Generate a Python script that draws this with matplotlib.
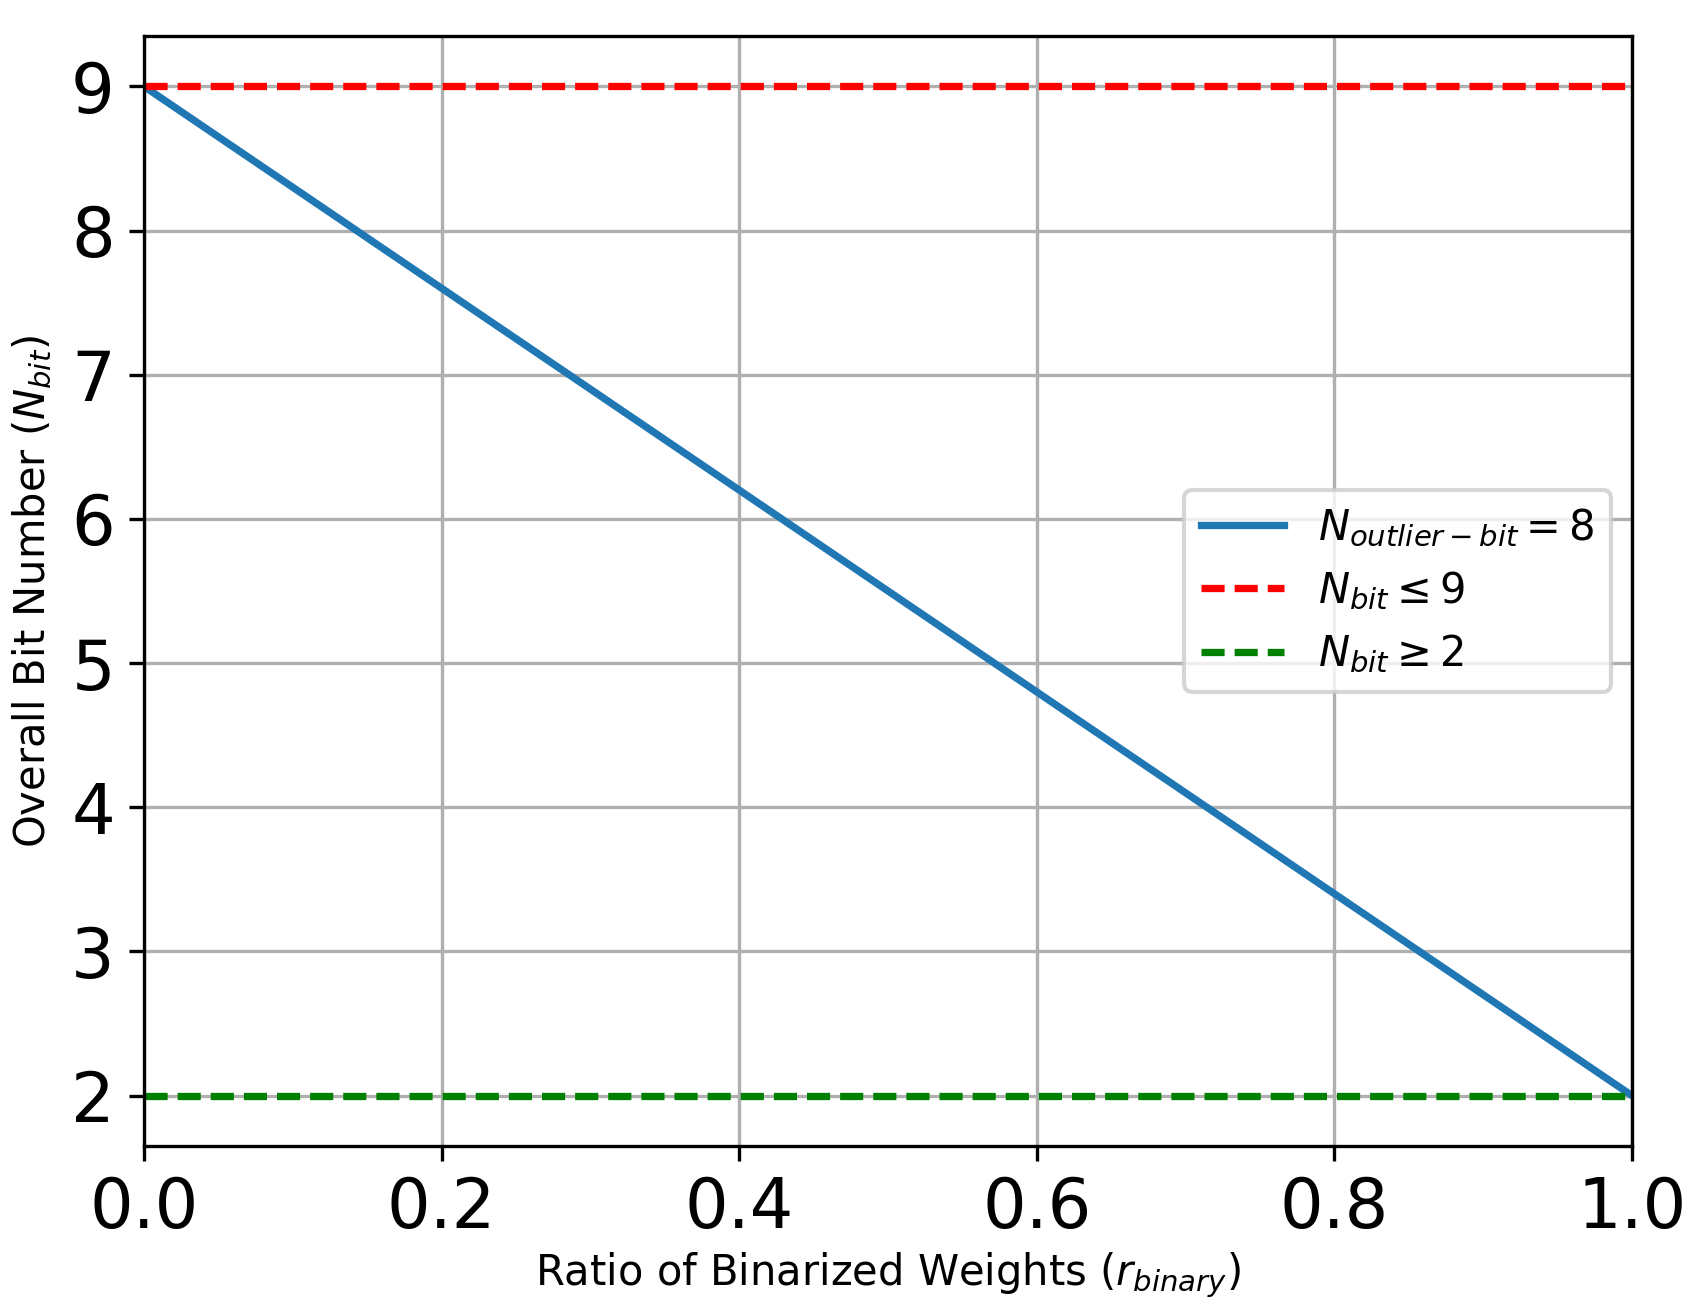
import matplotlib
matplotlib.use('Agg')
import matplotlib.pyplot as plt

# Ratio of binarized weights and the resulting overall bit number
r_binary = [0.0, 1.0]
n_bit = [9, 2]

# Bounds on the bit number
upper_bound = [9, 9]
lower_bound = [2, 2]

fig = plt.figure(figsize=(1691 / 300, 1304 / 300), dpi=300)
ax = fig.add_axes([0.0852, 0.1212, 0.965 - 0.0852, 0.9724 - 0.1212])

# dash pattern kept at the lw=1.5 length while the lines are a bit thicker
dash = (3.7 * 1.5 / 1.75, 1.6 * 1.5 / 1.75)

ax.plot(r_binary, n_bit, lw=1.75, label=r'$N_{outlier-bit}=8$')
ax.plot(r_binary, upper_bound, 'r--', lw=1.75, dashes=dash, label=r'$N_{bit} \leq 9$')
ax.plot(r_binary, lower_bound, 'g--', lw=1.75, dashes=dash, label=r'$N_{bit} \geq 2$')

ax.set_xlim(0, 1)
ax.set_xlabel(r'Ratio of Binarized Weights ($r_{binary}$)', fontsize=10, labelpad=2)
ax.set_ylabel(r'Overall Bit Number ($N_{bit}$)', fontsize=10)
ax.tick_params(axis='both', labelsize=16.5)
ax.grid(True)
ax.legend(loc='center right', fontsize=10)

fig.savefig('out.png', dpi=300)
